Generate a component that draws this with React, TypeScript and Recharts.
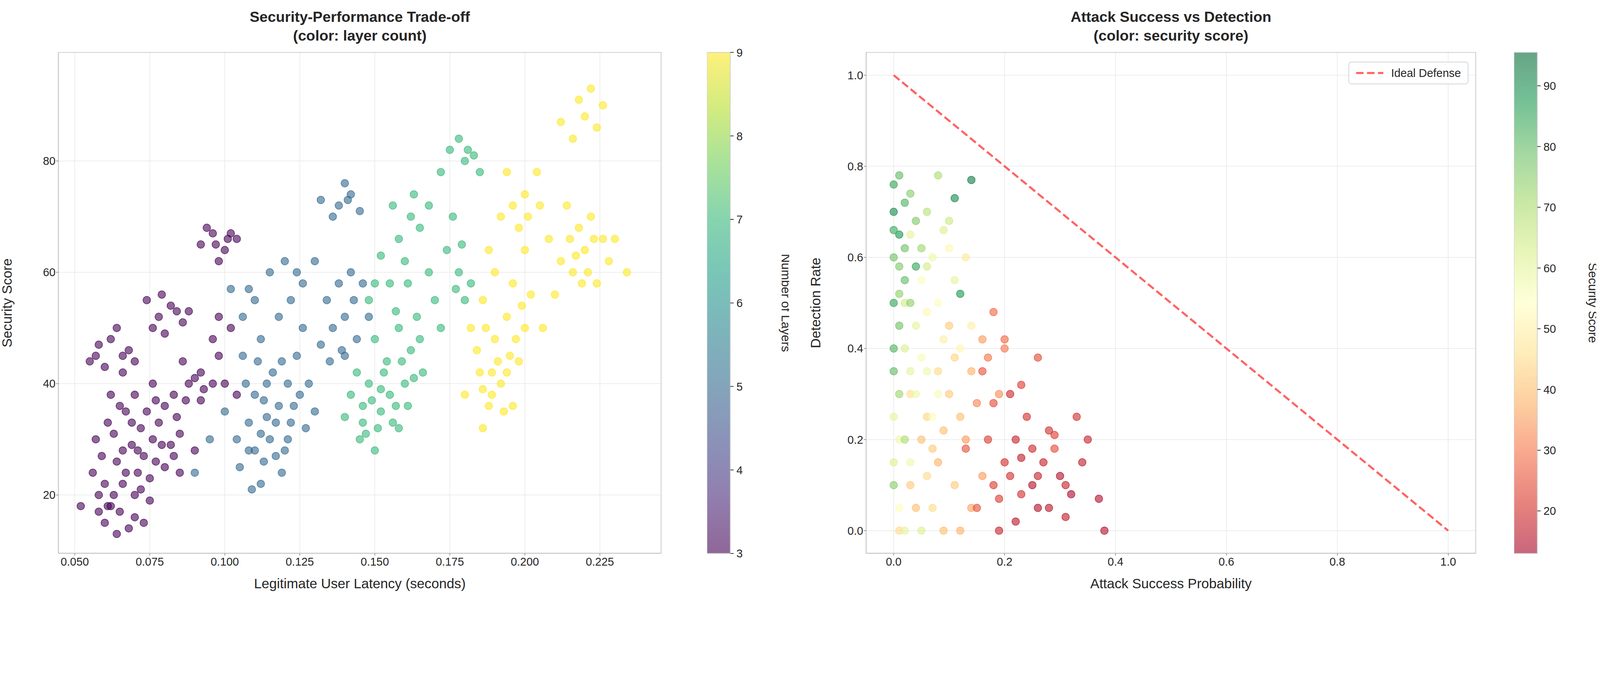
import React from 'react'
import { ScatterChart, Scatter, XAxis, YAxis, CartesianGrid, Line, ComposedChart } from 'recharts'

// Left chart: "x(thousandths) y" pairs per layer-count cluster
const LAYER3 = '062 18 066 22 070 16 058 20 064 26 072 21 068 14 060 15 075 19 056 24 069 29 063 31 073 27 078 33 067 35 080 25 071 24 065 17 059 27 076 30 082 29 074 35 061 33 085 31 070 38 057 45 062 48 066 42 060 43 068 46 055 44 064 50 078 52 082 54 086 51 074 55 080 49 088 53 092 65 096 67 100 64 104 66 098 62 094 68 102 67 083 38 088 40 080 36 092 37 090 41 098 45 100 40 104 38 096 48 102 50 098 52 086 44 052 18 090 28 085 24 066 28 072 32 060 22 064 13 070 20 077 26 058 17 084 34 062 38 076 40 093 39 079 56 067 24 063 20 071 28 075 23 079 29 083 27 069 33 065 36 057 30 061 18 073 15 077 37 087 37 092 42 096 40 066 45 070 44 058 47 084 53 076 50 097 65 101 66'
const LAYER5 = '105 25 110 28 108 33 115 30 112 22 118 36 104 30 120 28 110 38 116 42 122 33 125 38 106 45 113 26 119 24 124 45 128 40 130 35 112 48 118 52 110 55 122 55 106 52 102 57 115 60 120 62 126 58 130 62 138 58 134 55 142 60 140 45 144 48 136 50 148 52 132 47 138 72 142 74 140 76 136 70 145 71 132 73 100 35 095 30 090 24 108 57 126 50 114 34 109 21 117 27 121 40 107 40 127 32 111 44 140 52 146 58 112 31 117 33 113 37 108 28 121 30 119 44 123 36 114 40 139 46 135 44 143 55 141 73 124 60'
const LAYER7 = '140 34 145 30 150 28 152 35 148 40 155 38 158 32 146 36 160 40 142 38 154 44 162 46 150 48 166 42 158 50 164 52 170 55 148 55 155 58 160 62 152 63 168 60 158 66 162 70 156 72 165 68 174 64 178 60 180 55 172 50 176 70 182 58 175 82 180 80 185 78 178 84 183 81 172 78 168 72 150 58 163 74 147 31 153 42 157 36 144 42 161 36 151 32 165 48 177 57 149 37 156 33 152 39 159 44 146 33 163 41 157 53 161 58 179 65 181 82'
const LAYER9 = '180 38 185 42 188 36 190 48 192 40 195 45 182 50 186 55 194 52 198 44 200 50 190 60 196 58 202 56 188 64 192 70 198 68 200 74 205 72 194 78 208 66 212 62 216 60 220 64 224 58 218 68 226 66 214 72 222 70 228 62 210 56 216 84 220 88 224 86 218 91 222 93 212 87 226 90 184 46 186 32 196 36 200 64 206 50 204 78 189 42 193 35 187 50 197 48 215 66 221 60 230 66 234 60 191 44 189 38 194 42 186 39 199 54 217 63 219 58 223 66 196 72 201 70'

// Right chart: "x(hundredths) y(hundredths) score" triples
const HIGH = '0 70 90 0 76 85 1 78 80 1 65 88 2 72 82 0 60 78 3 74 75 2 55 80 4 68 76 0 50 85 1 45 78 14 77 92 11 73 90 5 62 72 0 40 82 3 50 74 8 78 70 1 30 72 6 70 68 2 20 70 0 10 75 12 52 88 4 58 85 0 35 80 1 58 76 0 66 84 2 62 78 1 52 74'
const MID = '3 65 60 5 55 55 7 60 58 2 40 62 4 45 60 8 50 55 10 62 52 6 35 58 9 42 50 0 25 60 3 15 58 1 5 55 5 0 62 7 25 55 11 55 60 13 60 48 10 68 65 6 48 52 4 30 58 2 0 60 12 40 52 14 45 50 2 50 64 5 38 56 9 66 62 1 20 58 3 35 60 6 58 64 8 30 56 0 15 62'
const LOW = '5 20 40 8 15 38 10 30 42 12 25 40 7 5 45 9 0 40 14 35 38 16 42 35 11 10 42 13 20 35 3 10 42 6 12 45 15 28 32 17 38 30 18 48 28 19 30 33 4 5 40 1 0 45 12 0 38 16 12 35 20 40 30 8 35 45 10 45 42 6 25 44 3 30 46 14 5 36 7 18 42 9 22 40 11 38 44'
const RED = '15 5 25 18 10 22 20 15 20 22 20 18 24 25 20 25 10 15 27 15 18 28 5 16 30 12 15 32 8 14 33 25 20 35 20 18 37 7 15 38 0 15 23 32 22 26 38 24 21 30 19 19 0 18 17 20 22 29 18 24 16 35 25 23 8 20 26 5 15 31 3 17 29 21 22 20 42 28 34 15 17 13 18 25 22 2 16 25 18 19 18 28 24 28 22 20 31 10 18 21 12 20 23 16 17 19 7 22 26 12 18'

const LAYER_TICKS = [3, 4, 5, 6, 7, 8, 9]
const SCORE_TICKS = [20, 30, 40, 50, 60, 70, 80, 90]
const X1_TICKS = [0.05, 0.075, 0.1, 0.125, 0.15, 0.175, 0.2, 0.225]
const Y1_TICKS = [20, 40, 60, 80]
const UNIT_TICKS = [0, 0.2, 0.4, 0.6, 0.8, 1.0]
const IDEAL = [{ x: 0, y: 1 }, { x: 1, y: 0 }]

const VIRIDIS = ['#440154', '#482878', '#3e4989', '#31688e', '#26828e', '#1f9e89', '#35b779', '#6ece58', '#b5de2b', '#fde725']
const RDYLGN = ['#a50026', '#d73027', '#f46d43', '#fdae61', '#fee08b', '#ffffbf', '#d9ef8b', '#a6d96a', '#66bd63', '#1a9850', '#006837']

function hex(c: string) { return [1, 3, 5].map((i) => parseInt(c.slice(i, i + 2), 16)) }
function mapColor(stops: string[], t: number) {
  const f = Math.max(0, Math.min(1, t)) * (stops.length - 1)
  const i = Math.min(stops.length - 2, Math.floor(f))
  const a = hex(stops[i]), b = hex(stops[i + 1]), k = f - i
  return `rgb(${a.map((v, j) => Math.round(v + (b[j] - v) * k)).join(',')})`
}

function pairs(s: string, layers: number) {
  const n = s.trim().split(/\s+/).map(Number)
  const out = []
  for (let i = 0; i < n.length; i += 2) out.push({ x: n[i] / 1000, y: n[i + 1], color: mapColor(VIRIDIS, (layers - 3) / 6) })
  return out
}
function triples(s: string) {
  const n = s.trim().split(/\s+/).map(Number)
  const out = []
  for (let i = 0; i < n.length; i += 3) out.push({ x: n[i] / 100, y: n[i + 1] / 100, color: mapColor(RDYLGN, (n[i + 2] - 13) / (95.5 - 13)) })
  return out
}

const leftData = [...pairs(LAYER3, 3), ...pairs(LAYER5, 5), ...pairs(LAYER7, 7), ...pairs(LAYER9, 9)]
const rightData = [...triples(LOW), ...triples(RED), ...triples(MID), ...triples(HIGH)]

const FONT = 'Arial, "Liberation Sans", sans-serif'
const TICK = { fontSize: 33, fill: '#262626', fontFamily: FONT }
const AXIS_LABEL = { fontSize: 40, fill: '#262626', fontFamily: FONT }

const Dot = (p: any) => (
  <circle cx={p.cx} cy={p.cy} r={11} fill={p.payload.color} fillOpacity={0.6} stroke={p.payload.color} strokeOpacity={0.7} strokeWidth={2} />
)

function Title({ left, lines }: { left: number; lines: string[] }) {
  return (
    <div style={{ position: 'absolute', left: left - 800, width: 1600, top: 22, textAlign: 'center', fontFamily: FONT, fontWeight: 'bold', fontSize: 43, lineHeight: '55px', color: '#262626' }}>
      {lines.map((l) => <div key={l}>{l}</div>)}
    </div>
  )
}

function ColorBar({ left, top, height, stops, min, max, ticks, label, id }: { left: number; top: number; height: number; stops: string[]; min: number; max: number; ticks: number[]; label: string; id: string }) {
  const w = 68
  return (
    <svg style={{ position: 'absolute', left, top: top - 20 }} width={240} height={height + 40}>
      <defs>
        <linearGradient id={id} x1="0" y1="1" x2="0" y2="0">
          {stops.map((c, i) => <stop key={i} offset={i / (stops.length - 1)} stopColor={c} />)}
        </linearGradient>
      </defs>
      <rect x={0} y={20} width={w} height={height} fill={`url(#${id})`} fillOpacity={0.6} stroke="#cccccc" strokeWidth={2} />
      {ticks.map((t) => {
        const y = 20 + height - ((t - min) / (max - min)) * height
        return (
          <g key={t}>
            <line x1={w} x2={w + 10} y1={y} y2={y} stroke="#262626" strokeWidth={2} />
            <text x={w + 18} y={y + 12} style={TICK}>{t}</text>
          </g>
        )
      })}
      <text transform={`translate(${w + 150}, ${20 + height / 2}) rotate(90)`} textAnchor="middle" style={{ ...TICK, fontSize: 36 }}>{label}</text>
    </svg>
  )
}

export default function App() {
  document.body.style.margin = '0'
  const scale = Math.min(1, (window.innerWidth || 4669) / 4669)
  return (
    <div style={{ width: 4669 * scale, height: 1769 * scale, overflow: 'hidden' }}>
      <div style={{ position: 'relative', width: 4669, height: 1769, background: '#fff', transform: `scale(${scale})`, transformOrigin: '0 0' }}>
        <Title left={1050} lines={['Security-Performance Trade-off', '(color: layer count)']} />
        <Title left={3417} lines={['Attack Success vs Detection', '(color: security score)']} />

        <div style={{ position: 'absolute', left: 0, top: 0 }}>
          <ScatterChart width={1945} height={1769} margin={{ top: 153, right: 15, bottom: 0, left: 0 }}>
            <CartesianGrid stroke="#ebebeb" strokeWidth={2} />
            <XAxis type="number" dataKey="x" domain={[0.0445, 0.2455]} ticks={X1_TICKS} tickFormatter={(v: number) => v.toFixed(3)}
              tick={TICK} height={154} tickLine={{ stroke: '#262626' }} axisLine={{ stroke: '#cccccc', strokeWidth: 2 }} tickMargin={6}
              label={{ value: 'Legitimate User Latency (seconds)', position: 'insideBottom', offset: 52, style: AXIS_LABEL }} />
            <YAxis type="number" dataKey="y" domain={[9.5, 99.5]} ticks={Y1_TICKS} tick={TICK} width={170}
              tickLine={{ stroke: '#262626' }} axisLine={{ stroke: '#cccccc', strokeWidth: 2 }}
              label={{ value: 'Security Score', angle: -90, position: 'insideLeft', offset: 20, style: { ...AXIS_LABEL, textAnchor: 'middle' } }} />
            <Scatter data={leftData} isAnimationActive={false} shape={Dot} />
          </ScatterChart>
          <div style={{ position: 'absolute', left: 170, top: 152, width: 1760, height: 1463, border: '2px solid #cccccc', boxSizing: 'border-box', pointerEvents: 'none' }} />
        </div>
        <ColorBar id="vir" left={2063} top={153} height={1462} stops={VIRIDIS} min={3} max={9} ticks={LAYER_TICKS} label="Number of Layers" />

        <div style={{ position: 'absolute', left: 2360, top: 0 }}>
          <ComposedChart width={1957} height={1769} margin={{ top: 153, right: 10, bottom: 0, left: 0 }}>
            <CartesianGrid stroke="#ebebeb" strokeWidth={2} />
            <XAxis type="number" dataKey="x" domain={[-0.05, 1.05]} ticks={UNIT_TICKS} tickFormatter={(v: number) => v.toFixed(1)}
              tick={TICK} height={154} tickLine={{ stroke: '#262626' }} axisLine={{ stroke: '#cccccc', strokeWidth: 2 }} tickMargin={6}
              label={{ value: 'Attack Success Probability', position: 'insideBottom', offset: 52, style: AXIS_LABEL }} />
            <YAxis type="number" dataKey="y" domain={[-0.05, 1.05]} ticks={UNIT_TICKS} tickFormatter={(v: number) => v.toFixed(1)} tick={TICK} width={167}
              tickLine={{ stroke: '#262626' }} axisLine={{ stroke: '#cccccc', strokeWidth: 2 }}
              label={{ value: 'Detection Rate', angle: -90, position: 'insideLeft', offset: 20, style: { ...AXIS_LABEL, textAnchor: 'middle' } }} />
            <Scatter data={rightData} isAnimationActive={false} shape={Dot} />
            <Line data={IDEAL} dataKey="y" name="Ideal Defense" stroke="#ff3b3b" strokeOpacity={0.8} strokeWidth={6} strokeDasharray="22 10" dot={false} isAnimationActive={false} />
          </ComposedChart>
          <div style={{ position: 'absolute', left: 167, top: 152, width: 1780, height: 1463, border: '2px solid #cccccc', boxSizing: 'border-box', pointerEvents: 'none' }} />
          <div style={{ position: 'absolute', right: 32, top: 180, border: '2px solid #d0d0d0', borderRadius: 8, padding: '12px 20px', background: '#fff', fontFamily: FONT, fontSize: 33, color: '#262626', display: 'flex', alignItems: 'center' }}>
            <svg width={80} height={20} style={{ marginRight: 22 }}><line x1={0} x2={80} y1={10} y2={10} stroke="#ff3b3b" strokeOpacity={0.8} strokeWidth={6} strokeDasharray="22 10" /></svg>
            Ideal Defense
          </div>
        </div>
        <ColorBar id="rdylgn" left={4418} top={153} height={1462} stops={RDYLGN} min={13} max={95.5} ticks={SCORE_TICKS} label="Security Score" />
      </div>
    </div>
  )
}
